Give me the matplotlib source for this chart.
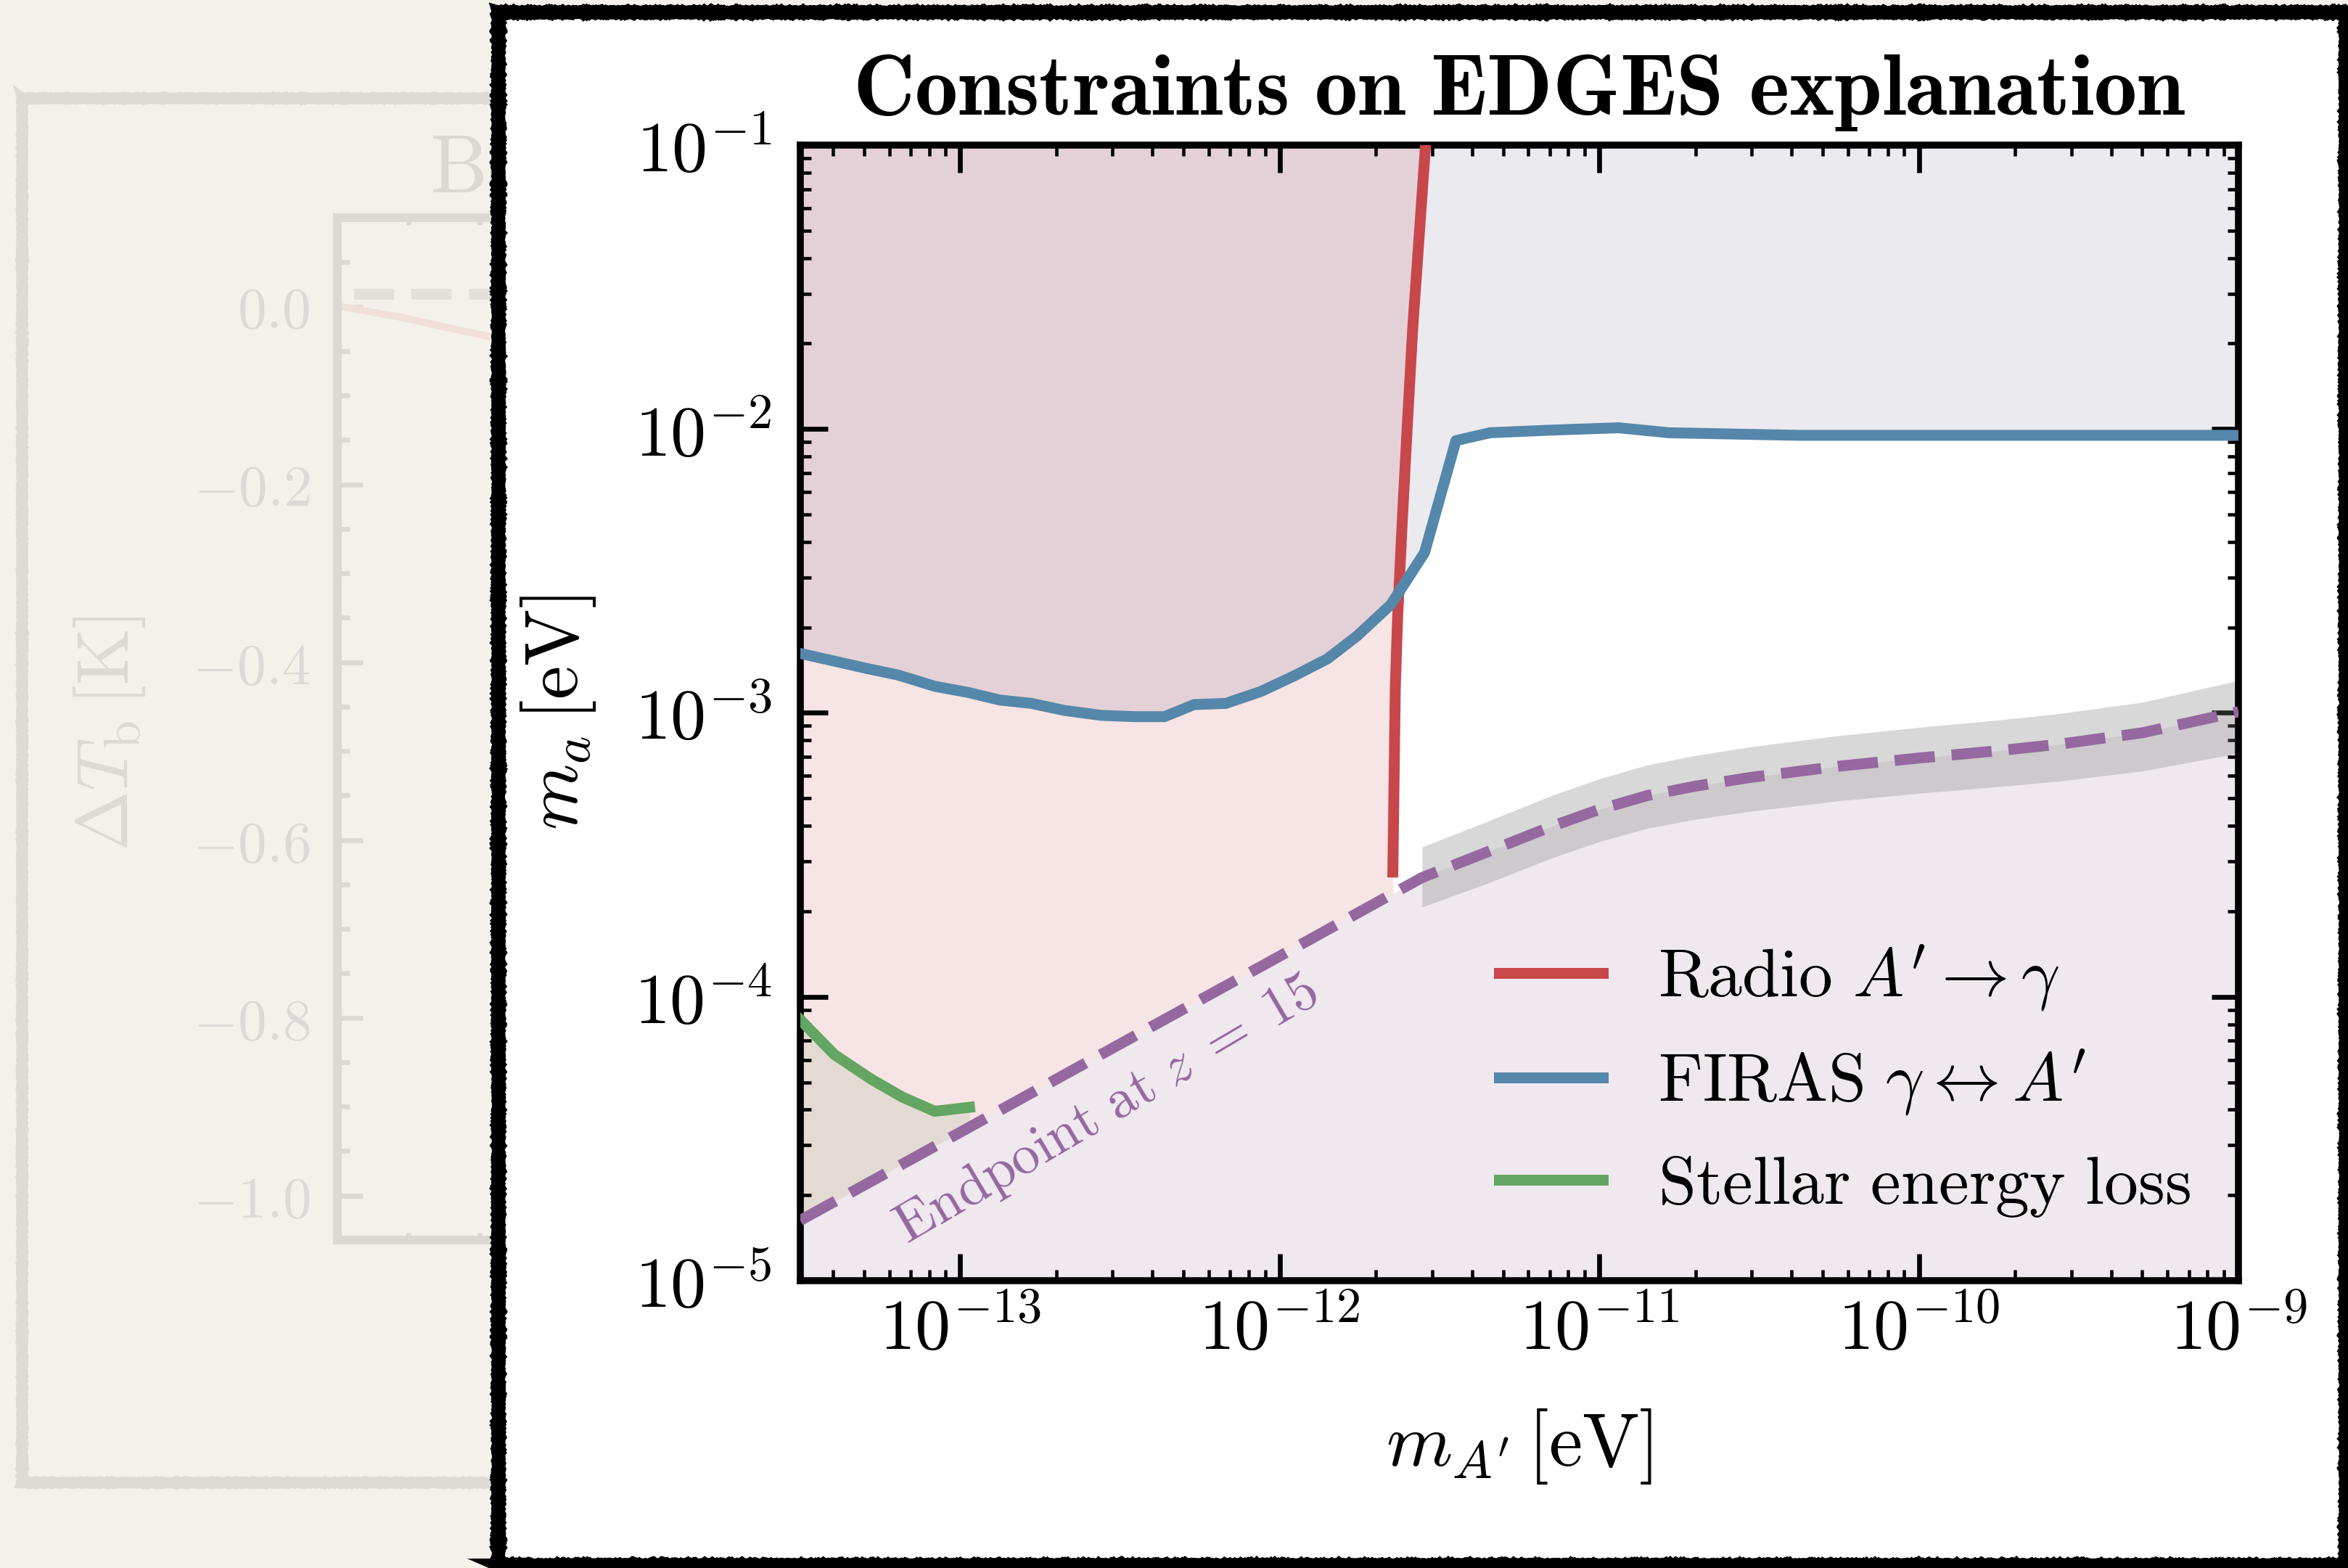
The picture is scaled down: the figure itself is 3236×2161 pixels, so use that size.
import matplotlib
matplotlib.use("Agg")
import matplotlib.pyplot as plt
from matplotlib.patches import Rectangle
from matplotlib.ticker import MultipleLocator
import numpy as np

plt.rcParams["mathtext.fontset"] = "cm"
plt.rcParams["font.family"] = "serif"

W, H = 3237, 2161

# ---- main chart data (m_A' [eV], m_a [eV]) ----
radio_x = [2.26e-12, 2.30e-12, 2.34e-12, 2.42e-12, 2.51e-12, 2.61e-12, 2.86e-12]
radio_y = [2.75e-4, 1.22e-3, 2.20e-3, 4.80e-3, 1.05e-2, 2.30e-2, 1.0e-1]

firas_x = [3.16e-14, 5.16e-14, 6.39e-14, 8.35e-14, 1.06e-13, 1.33e-13, 1.67e-13,
           2.12e-13, 2.77e-13, 3.53e-13, 4.36e-13, 5.40e-13, 6.78e-13, 8.74e-13,
           1.11e-12, 1.41e-12, 1.75e-12, 2.23e-12, 2.84e-12, 3.56e-12, 4.55e-12,
           6.91e-12, 1.15e-11, 1.65e-11, 4.2e-11, 1.2e-10, 3.2e-10, 1.0e-9]
firas_y = [1.62e-3, 1.43e-3, 1.36e-3, 1.24e-3, 1.18e-3, 1.11e-3, 1.08e-3,
           1.02e-3, 9.8e-4, 9.7e-4, 9.7e-4, 1.07e-3, 1.08e-3, 1.19e-3,
           1.35e-3, 1.55e-3, 1.87e-3, 2.41e-3, 3.67e-3, 9.1e-3, 9.7e-3,
           9.9e-3, 1.01e-2, 9.7e-3, 9.5e-3, 9.5e-3, 9.5e-3, 9.5e-3]

stellar_x = [3.16e-14, 4.04e-14, 5.25e-14, 6.58e-14, 8.33e-14, 1.07e-13]
stellar_y = [8.3e-5, 6.26e-5, 5.14e-5, 4.44e-5, 3.95e-5, 4.08e-5]

endpoint_x = [3.16e-14, 1.0e-13, 3.16e-13, 1.0e-12, 2.0e-12, 2.79e-12, 4.47e-12,
              7.08e-12, 1.0e-11, 1.41e-11, 2.0e-11, 2.96e-11, 5.62e-11, 1.02e-10,
              1.78e-10, 2.76e-10, 5.0e-10, 1.0e-9]
endpoint_y = [1.63e-5, 3.33e-5, 6.81e-5, 1.39e-4, 2.14e-4, 2.63e-4, 3.24e-4,
              3.98e-4, 4.57e-4, 5.11e-4, 5.52e-4, 5.92e-4, 6.49e-4, 6.95e-4,
              7.36e-4, 7.76e-4, 8.51e-4, 1.01e-3]

band_x = [2.79e-12, 4.47e-12, 7.08e-12, 1.0e-11, 1.41e-11, 2.0e-11, 2.96e-11,
          5.62e-11, 1.02e-10, 1.78e-10, 2.76e-10, 5.0e-10, 1.0e-9]
band_hi = [3.37e-4, 4.15e-4, 5.11e-4, 5.86e-4, 6.55e-4, 7.08e-4, 7.59e-4,
           8.32e-4, 8.91e-4, 9.44e-4, 9.95e-4, 1.09e-3, 1.30e-3]
band_lo = [2.07e-4, 2.51e-4, 3.08e-4, 3.52e-4, 3.92e-4, 4.22e-4, 4.50e-4,
           4.90e-4, 5.22e-4, 5.50e-4, 5.75e-4, 6.24e-4, 7.21e-4]

x_ticks = [1e-13, 1e-12, 1e-11, 1e-10, 1e-9]
x_tick_labels = [r"$10^{-13}$", r"$10^{-12}$", r"$10^{-11}$", r"$10^{-10}$", r"$10^{-9}$"]
y_ticks = [1e-5, 1e-4, 1e-3, 1e-2, 1e-1]
y_tick_labels = [r"$10^{-5}$", r"$10^{-4}$", r"$10^{-3}$", r"$10^{-2}$", r"$10^{-1}$"]

# ---- faded background slide chart ----
bg_ref_x = [0.22, 10.0]
bg_ref_y = [0.014, 0.014]
bg_curve_x = [0.05, 0.83, 1.51, 2.16, 3.0]
bg_curve_y = [0.0, -0.011, -0.023, -0.034, -0.05]
bg_ticks = [0.0, -0.2, -0.4, -0.6, -0.8, -1.0]
bg_tick_labels = [r"$0.0$", r"$-0.2$", r"$-0.4$", r"$-0.6$", r"$-0.8$", r"$-1.0$"]

red = "#c8474b"
blue = "#5587aa"
green = "#63a562"
purple = "#9568a0"
faded = "#dcd9d2"
lw = 3.6


def fig_box(left, top, right, bottom):
    return [left / W, 1 - bottom / H, (right - left) / W, (bottom - top) / H]


fig = plt.figure(figsize=(W / 300, H / 300), dpi=300, facecolor="#f4f1eb")

# background chart (mostly hidden behind the card)
bg = fig.add_axes(fig_box(465, 300, 1445, 1709), zorder=0)
bg.set_facecolor("none")
bg.set_xlim(0, 10)
bg.set_ylim(-1.05, 0.1)
bg.plot(bg_ref_x, bg_ref_y, ls="--", color="#e3e0da", lw=3.6)
bg.plot(bg_curve_x, bg_curve_y, color="#f1dfd9", lw=2.4)
for s in bg.spines.values():
    s.set_color(faded)
    s.set_linewidth(2.9)
bg.set_yticks(bg_ticks)
bg.set_yticklabels(bg_tick_labels, fontsize=19, color="#dbdad6")
bg.yaxis.set_minor_locator(MultipleLocator(0.05))
bg.set_xticks([])
bg.xaxis.set_minor_locator(MultipleLocator(1))
bg.tick_params(which="both", direction="in", top=True, bottom=True, right=True,
               color=faded, width=1.6)
bg.tick_params(which="major", length=8.4, pad=9)
bg.tick_params(which="minor", length=4)
bg.tick_params(axis="x", which="minor", length=2.3)
bg.set_ylabel(r"$\Delta T_\mathrm{b}\,[\mathrm{K}]$", fontsize=24, color="#dddad4")
bg.yaxis.set_label_coords(-0.267, 0.496)
fig.text(592 / W, 1 - 265 / H, r"$\mathrm{Be}$", fontsize=27, color=faded,
         ha="left", va="baseline", zorder=0)

frame = Rectangle((30 / W, 1 - 2043 / H), (1600 - 30) / W, (2043 - 135) / H,
                  transform=fig.transFigure, fill=False, edgecolor="#dedbd5",
                  lw=3.6, zorder=0.5)
frame.set_sketch_params(scale=0.4, length=3, randomness=2)
fig.add_artist(frame)

card = Rectangle((687 / W, 1 - 2157 / H), (3233 - 687) / W, (2157 - 17) / H,
                 transform=fig.transFigure, facecolor="white", edgecolor="black",
                 lw=4.3, zorder=1)
card.set_sketch_params(scale=0.5, length=3, randomness=2)
fig.add_artist(card)

# main chart
ax = fig.add_axes(fig_box(1103, 200, 3085, 1765), zorder=2)
ax.set_xscale("log")
ax.set_yscale("log")
ax.set_xlim(10 ** -13.5, 1e-9)
ax.set_ylim(1e-5, 1e-1)
y0, y1 = ax.get_ylim()
x0, x1 = ax.get_xlim()

ax.fill_betweenx([y0] + radio_y, x0, [radio_x[0]] + radio_x, color=red, alpha=0.145, lw=0)
ax.fill_between(firas_x, firas_y, y1, color=(0.24, 0.2, 0.4), alpha=0.1, lw=0)
ax.fill_between(stellar_x, y0, stellar_y, color=green, alpha=0.13, lw=0)
ax.fill_between(endpoint_x, y0, endpoint_y, color="#efe9ef", lw=0, zorder=1.5)
ax.fill_between(band_x, band_lo, band_hi, color="0.5", alpha=0.3, lw=0, zorder=1.8)

ax.plot(radio_x, radio_y, color=red, lw=lw, label=r"$\mathrm{Radio}\ A^{\prime}\rightarrow\gamma$", zorder=3)
ax.plot(firas_x, firas_y, color=blue, lw=lw, label=r"$\mathrm{FIRAS}\ \gamma\leftrightarrow A^{\prime}$", zorder=3)
ax.plot(stellar_x, stellar_y, color=green, lw=lw, label=r"$\mathrm{Stellar\ energy\ loss}$", zorder=3)
ax.plot(endpoint_x, endpoint_y, color=purple, lw=lw, ls="--", dashes=(3.7, 1.55), zorder=3)

ax.text(0.2132, 0.1504, r"$\mathrm{Endpoint\ at}\ z\;=\;15$", transform=ax.transAxes,
        fontsize=18.5, color=purple, rotation=30.5, rotation_mode="anchor",
        ha="center", va="center")

ax.set_xticks(x_ticks)
ax.set_xticklabels(x_tick_labels, fontsize=23.5)
ax.set_yticks(y_ticks)
ax.set_yticklabels(y_tick_labels, fontsize=23.5)
ax.tick_params(which="both", direction="in", top=True, right=True)
ax.tick_params(which="major", length=9, width=1.6)
ax.tick_params(which="minor", length=3.7, width=1.1)
ax.tick_params(axis="x", which="major", pad=5)
ax.tick_params(axis="y", which="major", pad=9.5)
for s in ax.spines.values():
    s.set_linewidth(2.3)

ax.set_xlabel(r"$m_{A^{\prime}}\,[\mathrm{eV}]$", fontsize=25)
ax.xaxis.set_label_coords(0.5, -0.111)
ax.set_ylabel(r"$m_a\,[\mathrm{eV}]$", fontsize=25)
ax.yaxis.set_label_coords(-0.141, 0.5)
ax.set_title(r"$\mathbf{Constraints\ on\ EDGES\ explanation}$", fontsize=28.4, pad=10)

ax.legend(loc="upper left", bbox_to_anchor=(0.4859, 0.2977), frameon=False,
          fontsize=22.5, handlelength=1.52, handletextpad=0.82, labelspacing=0.5,
          borderpad=0, borderaxespad=0)

fig.savefig("out.png", dpi=300, facecolor=fig.get_facecolor())
